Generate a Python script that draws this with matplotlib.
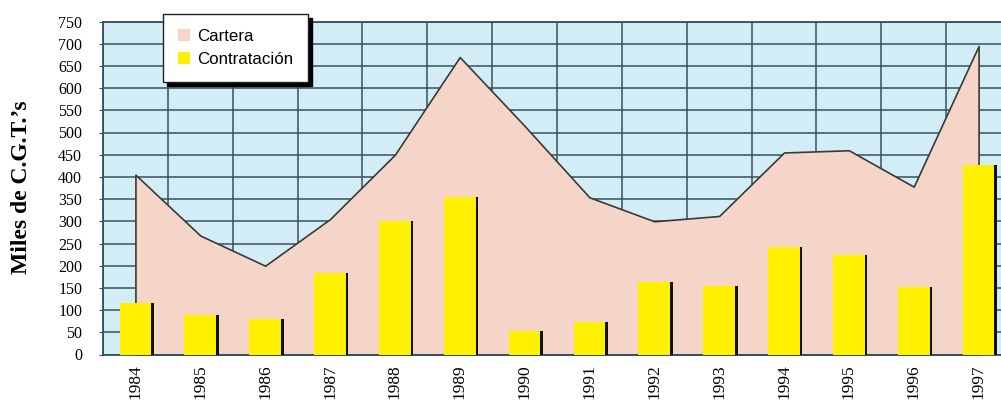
import numpy as np
import matplotlib
matplotlib.use('Agg')
from matplotlib import pyplot as plt
from matplotlib.patches import Patch

years = [1984, 1985, 1986, 1987, 1988, 1989, 1990, 1991, 1992, 1993, 1994, 1995, 1996, 1997]
cartera = [405, 268, 200, 305, 450, 670, 515, 354, 300, 312, 455, 460, 378, 695]
contratacion = [115, 89, 80, 184, 300, 354, 54, 73, 163, 155, 242, 223, 152, 427]
yticks = list(range(0, 751, 50))

blue_bg = '#d3edf6'
pink = '#f5d5c7'
yellow = '#fff000'
gridc = '#34525e'

fig = plt.figure(figsize=(10.01, 4.05), dpi=100)
ax = fig.add_axes([103 / 1001, 50.5 / 405, 908 / 1001, 333 / 405])
ax.set_facecolor(blue_bg)

x = np.array(years)
# cartera as a filled area with dark outline
ax.fill_between(x, 0, cartera, facecolor=pink, edgecolor='#3a3a3a', linewidth=1.2, zorder=2)

# contratacion bars with a dark strip on the right (shadow)
ax.bar(x + 0.04, contratacion, width=0.49, color='#111111', zorder=3)
ax.bar(x, contratacion, width=0.49, color=yellow, zorder=4)

ax.set_xlim(1983.5, 1997.5)
ax.set_ylim(0, 750)
ax.set_yticks(yticks)
ax.set_xticks(years)
ax.set_xticklabels([str(y) for y in years], rotation=90, family='Liberation Serif', fontsize=12.5)
ax.set_yticklabels([str(v) for v in yticks], family='Liberation Serif', fontsize=11.5)

# grid: horizontal at every 50, vertical between years
ax.set_xticks(np.arange(1983.5, 1998, 1), minor=True)
ax.grid(True, which='major', axis='y', color=gridc, linewidth=1.1, zorder=1)
ax.grid(True, which='minor', axis='x', color=gridc, linewidth=1.1, zorder=1)
ax.set_axisbelow(True)
ax.tick_params(axis='y', length=3, pad=12, color=gridc)
ax.tick_params(axis='x', which='major', length=0, pad=7)
ax.tick_params(axis='x', which='minor', length=0)

for s in ['left', 'bottom', 'top']:
    ax.spines[s].set_color(gridc)
    ax.spines[s].set_linewidth(1.3)
ax.spines['right'].set_visible(False)

fig.text(22 / 1001, (405 - 187) / 405, "Miles de C.G.T.’s", rotation=90,
         ha='center', va='center', family='Liberation Serif', fontweight='bold', fontsize=17)

handles = [Patch(facecolor=pink, edgecolor='none'), Patch(facecolor=yellow, edgecolor='none')]
leg = ax.legend(handles, ['Cartera', 'Contratación'], loc='upper left',
                bbox_to_anchor=(0.066, 1.0225), frameon=True, fancybox=False,
                prop={'family': 'Liberation Sans', 'size': 12.2},
                handlelength=0.7, handleheight=0.7, handletextpad=0.4,
                labelspacing=0.45, borderpad=0.9, borderaxespad=0,
                shadow={'ox': 3, 'oy': -3, 'facecolor': 'black', 'edgecolor': 'black', 'alpha': 1})
leg.get_frame().set_edgecolor('#222222')
leg.get_frame().set_linewidth(1.0)
leg.get_frame().set_facecolor('white')
leg.set_zorder(10)

fig.savefig('out.png', dpi=100)
